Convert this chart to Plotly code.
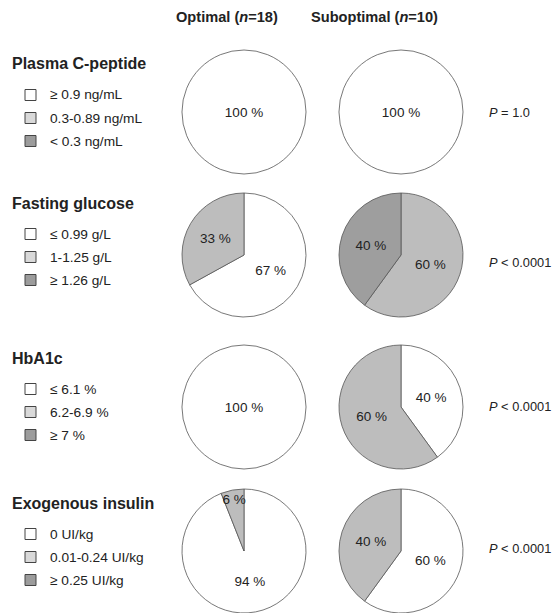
import plotly.graph_objects as go

# the page adds an 8px body margin, so the figure is drawn smaller
OFF = 8
W, H = 560 - 2 * OFF, 613 - OFF

col_titles = ["Optimal (<i>n</i>=18)", "Suboptimal (<i>n</i>=10)"]
row_titles = ["Plasma C-peptide", "Fasting glucose", "HbA1c", "Exogenous insulin"]
row_labels = [
    ["≥ 0.9 ng/mL", "0.3-0.89 ng/mL", "< 0.3 ng/mL"],
    ["≤ 0.99 g/L", "1-1.25 g/L", "≥ 1.26 g/L"],
    ["≤ 6.1 %", "6.2-6.9 %", "≥ 7 %"],
    ["0 UI/kg", "0.01-0.24 UI/kg", "≥ 0.25 UI/kg"],
]
optimal = [[100, 0, 0], [67, 33, 0], [100, 0, 0], [94, 6, 0]]
suboptimal = [[100, 0, 0], [0, 60, 40], [40, 60, 0], [60, 40, 0]]
p_values = ["<i>P</i> = 1.0", "<i>P</i> < 0.0001", "<i>P</i> < 0.0001", "<i>P</i> < 0.0001"]

pie_colors = ["#ffffff", "#bdbdbd", "#9e9e9e"]
box_colors = ["#ffffff", "#d9d9d9", "#9c9c9c"]
edge = "#555555"
FONT = "Arial, Liberation Sans, sans-serif"

# layout in window pixels
col_x = [244, 401]
head_x = [227, 374]
row_y = [112, 255, 407, 551]
p_y = [112, 262, 406, 548]
R = 62
title_y = [64, 203, 358, 503]
item_dy = [31, 54, 77]


def px_x(x):
    return (x - OFF) / W


def px_y(y):
    return 1 - (y - OFF) / H


def domain(cx, cy, r):
    return dict(
        x=[max(0, px_x(cx - r)), min(1, px_x(cx + r))],
        y=[max(0, px_y(cy + r)), min(1, px_y(cy - r))],
    )


fig = go.Figure()
for i, title in enumerate(row_titles):
    for j, vals in enumerate([optimal[i], suboptimal[i]]):
        idx = [k for k, v in enumerate(vals) if v > 0]
        fig.add_trace(
            go.Pie(
                labels=[row_labels[i][k] for k in idx],
                values=[vals[k] for k in idx],
                text=[f"{vals[k]} %" for k in idx],
                textinfo="text",
                textposition="inside",
                insidetextorientation="horizontal",
                textfont=dict(family=FONT, size=13.5, color="#222222"),
                marker=dict(colors=[pie_colors[k] for k in idx], line=dict(color=edge, width=0.8)),
                sort=False,
                direction="clockwise",
                rotation=0,
                domain=domain(col_x[j], row_y[i], R),
                showlegend=False,
                hoverinfo="label+percent",
            )
        )

annotations = []
shapes = []
for j, t in enumerate(col_titles):
    annotations.append(dict(
        x=px_x(head_x[j]), y=px_y(17), xref="paper", yref="paper",
        text=f"<b>{t}</b>", showarrow=False, xanchor="center", yanchor="middle",
        font=dict(family=FONT, size=14.6, color="#222222"),
    ))

for i, title in enumerate(row_titles):
    annotations.append(dict(
        x=px_x(10), y=px_y(title_y[i]), xref="paper", yref="paper",
        text=f"<b>{title}</b>", showarrow=False, xanchor="left", yanchor="middle",
        font=dict(family=FONT, size=16, color="#222222"),
    ))
    for k, lab in enumerate(row_labels[i]):
        yc = title_y[i] + item_dy[k]
        shapes.append(dict(
            type="rect", xref="paper", yref="paper",
            x0=px_x(25), x1=px_x(36), y0=px_y(yc + 5.5), y1=px_y(yc - 5.5),
            fillcolor=box_colors[k], line=dict(color="#444444", width=1),
        ))
        annotations.append(dict(
            x=px_x(48), y=px_y(yc), xref="paper", yref="paper",
            text=lab, showarrow=False, xanchor="left", yanchor="middle",
            font=dict(family=FONT, size=13.7, color="#222222"),
        ))
    annotations.append(dict(
        x=px_x(487), y=px_y(p_y[i]), xref="paper", yref="paper",
        text=p_values[i], showarrow=False, xanchor="left", yanchor="middle",
        font=dict(family=FONT, size=12.8, color="#222222"),
    ))

fig.update_layout(
    width=W, height=H,
    margin=dict(l=0, r=0, t=0, b=0),
    paper_bgcolor="white", plot_bgcolor="white",
    annotations=annotations, shapes=shapes,
    uniformtext=dict(minsize=13.5, mode="show"),
    font=dict(family=FONT),
)

fig.write_html("out.html")
